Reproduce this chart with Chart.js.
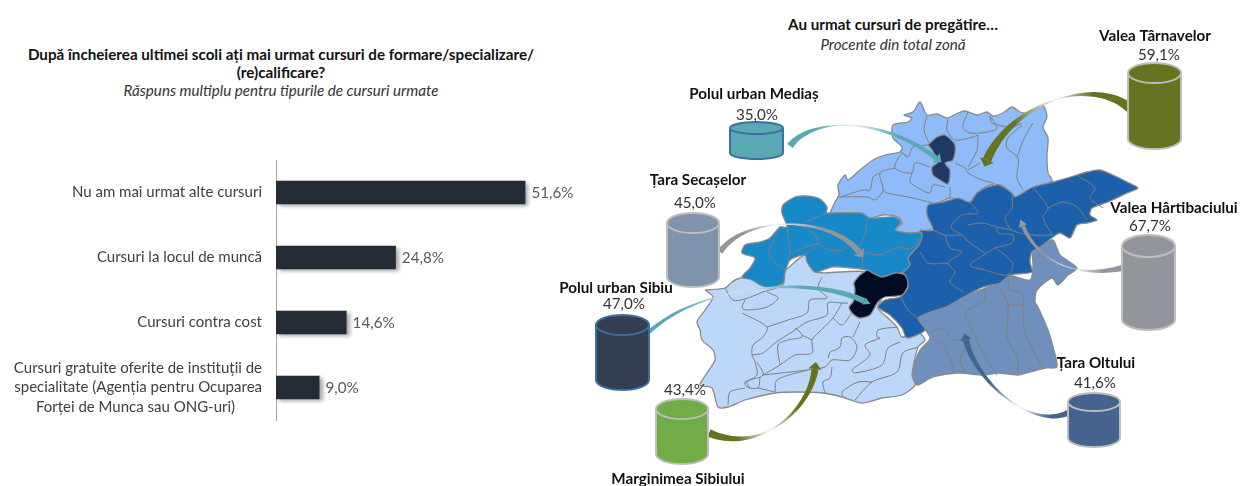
<!DOCTYPE html>
<html lang="ro">
<head>
<meta charset="utf-8">
<title>Cursuri de pregătire</title>
<script src="https://cdn.jsdelivr.net/npm/chart.js@4"></script>
<style>
    html, body { margin: 0; padding: 0; background: #fff; }
    body { position: relative; width: 1247px; height: 486px; overflow: hidden; font-family: Lato, sans-serif; }
    canvas { position: absolute; top: 0; }
    #barChart { left: 0; }
    #mapChart { left: 540px; }
    .head { position: absolute; text-align: center; color: #111; font-size: 15.2px; line-height: 18px; white-space: nowrap; }
    .head b { font-weight: 700; }
    .head i { color: #333; }
</style>
</head>
<body>
<div class="head" style="left:0;width:562px;top:45px"><b>După încheierea ultimei scoli ați mai urmat cursuri de formare/specializare/<br>(re)calificare?</b><br><i>Răspuns multiplu pentru tipurile de cursuri urmate</i></div>
<div class="head" style="left:693px;width:400px;top:14px;line-height:20px"><b>Au urmat cursuri de pregătire…</b><br><i>Procente din total zonă</i></div>
<canvas id="barChart" width="590" height="486"></canvas>
<canvas id="mapChart" width="707" height="486"></canvas>
<script>
// left chart
const courseLabels = [
    'Nu am mai urmat alte cursuri',
    'Cursuri la locul de muncă',
    'Cursuri contra cost',
    ['Cursuri gratuite oferite de instituții de', 'specialitate (Agenția pentru Ocuparea', 'Forței de Munca sau ONG-uri)       ']
];
const courseValues = [51.6, 24.8, 14.6, 9.0];

// right chart
const zoneNames = ['Valea Târnavelor', 'Polul urban Mediaș', 'Țara Secașelor', 'Valea Hârtibaciului', 'Polul urban Sibiu', 'Țara Oltului', 'Marginimea Sibiului'];
const zoneValues = [59.1, 35.0, 45.0, 67.7, 47.0, 41.6, 43.4];

// map outlines
const areaTarnave = [[830,213],[835,202],[839,195],[838,185],[845,175],[848,180],[860,170],[873,160],[885,155],[900,152],[902,147],[893,138],[893,125],[908,122],[912,118],[904,115],[913,112],[920,102],[927,115],[937,114],[947,118],[958,113],[965,111],[977,115],[987,112],[993,116],[1003,113],[1012,107],[1020,112],[1027,113],[1043,106],[1047,117],[1043,127],[1048,138],[1047,155],[1048,173],[1052,181],[1033,188],[1027,192],[1013,197],[1003,187],[993,184],[977,193],[970,202],[962,201],[950,198],[930,208],[928,217],[935,227],[920,232],[910,233],[895,230],[902,223],[898,217],[883,215],[870,218],[853,213],[837,217]];
const areaMedias = [[928,145],[937,137],[945,135],[955,145],[953,160],[945,163],[950,170],[948,184],[940,180],[933,175],[932,167],[938,162],[932,150]];
const areaSecase = [[826,213],[862,213],[870,218],[895,217],[901,222],[895,230],[908,233],[922,233],[920,243],[908,258],[910,265],[903,272],[882,277],[867,270],[852,268],[832,267],[815,272],[807,262],[805,255],[790,260],[785,273],[783,283],[770,288],[760,285],[752,280],[742,277],[750,268],[755,258],[742,253],[745,245],[760,242],[770,238],[780,227],[787,227],[782,213],[783,205],[795,197],[807,196],[820,199],[827,207]];
const areaHartibaciu = [[920,230],[933,230],[927,215],[928,205],[943,202],[958,198],[970,202],[977,193],[988,187],[1000,185],[1012,193],[1015,197],[1033,187],[1053,182],[1067,178],[1077,175],[1087,172],[1100,170],[1117,177],[1127,182],[1138,188],[1127,193],[1108,202],[1092,208],[1090,215],[1097,220],[1087,223],[1077,225],[1070,238],[1060,233],[1053,237],[1043,245],[1032,252],[1030,262],[1032,272],[1010,275],[1000,283],[983,287],[967,295],[948,306],[918,318],[925,330],[907,338],[902,328],[890,315],[878,307],[885,300],[900,297],[908,287],[905,275],[903,272],[910,265],[908,258],[920,243]];
const areaOlt = [[1032,252],[1043,245],[1053,240],[1060,255],[1077,268],[1068,275],[1058,285],[1052,278],[1037,290],[1035,302],[1038,307],[1048,330],[1053,347],[1057,367],[1045,368],[1018,375],[998,373],[983,375],[957,373],[933,377],[917,385],[913,377],[915,362],[920,350],[930,338],[918,318],[935,307],[963,295],[983,289],[1002,280],[1008,275],[1030,280],[1033,267]];
const areaMarginime = [[705,290],[725,288],[732,282],[740,278],[752,278],[785,270],[805,255],[815,272],[867,272],[885,290],[878,308],[888,318],[897,327],[902,337],[918,332],[925,340],[918,347],[912,375],[915,385],[902,395],[882,398],[862,403],[842,397],[823,393],[798,392],[775,393],[745,400],[728,407],[718,407],[712,388],[700,385],[707,373],[715,360],[713,350],[702,340],[700,330],[697,322],[705,310],[713,297]];
const areaSibiu = [[867,270],[882,277],[895,273],[905,275],[908,285],[902,295],[885,297],[878,302],[870,315],[860,318],[852,313],[849,307],[853,302],[855,290],[854,283],[860,275]];

const innerBorders = [
    // Valea Târnavelor
    [[927,116],[924,130],[929,143]], [[948,119],[947,130],[955,140],[973,137],[978,135]],
    [[968,112],[963,127],[970,133],[987,132],[997,128],[990,116]], [[978,135],[977,150],[968,167]],
    [[955,163],[965,168],[968,173],[982,180],[993,183]], [[968,170],[980,163]],
    [[1022,125],[1008,138],[1007,148],[1018,158],[1017,178],[1023,190]], [[1033,123],[1027,133],[1022,143],[1017,158]],
    [[990,116],[992,123],[1012,127],[1022,123]], [[902,153],[908,157],[913,147],[928,145]],
    [[908,157],[902,153],[895,168],[912,173],[915,163],[930,167]], [[895,168],[880,173],[883,190],[875,200],[868,197],[837,197]],
    [[880,173],[873,177],[870,190],[863,190],[840,197]], [[883,190],[887,193],[913,198],[932,203]],
    [[912,173],[910,182],[922,190],[930,193],[933,185],[945,187]], [[950,187],[950,198]],
    // Țara Secașelor
    [[780,227],[770,248],[770,257],[785,270]], [[787,227],[790,253],[788,258]],
    [[826,213],[803,225],[815,235],[818,243],[805,255]],
    [[818,243],[830,250],[843,250],[847,245],[857,248],[865,235],[867,222],[870,218]], [[790,253],[812,245],[818,243]],
    [[865,252],[878,255],[897,248],[912,248],[921,237]], [[863,252],[862,270]],
    // Valea Hârtibaciului
    [[1033,187],[1048,208],[1043,217],[1052,235]], [[1048,208],[1063,202],[1077,207],[1087,220]],
    [[1077,175],[1095,188],[1090,198],[1103,208]], [[1012,193],[1012,208],[1005,218],[1012,230],[1032,235],[1053,235]],
    [[970,202],[978,213],[962,215],[951,227],[962,235],[970,243],[985,253]], [[968,225],[982,223],[997,227],[1012,230]],
    [[997,227],[998,233],[1013,235],[1012,243],[995,248],[987,253],[970,265],[985,270],[1007,275],[1013,265],[1005,255],[995,248]],
    [[933,230],[945,235],[962,235]], [[945,235],[950,248],[962,252],[948,263],[955,272],[950,282],[963,292]],
    [[920,252],[928,263],[948,263]], [[900,295],[908,310],[918,318]],
    // Țara Oltului
    [[985,290],[985,300],[966,312],[973,332],[987,360],[997,375]], [[1000,288],[1008,305],[1007,338],[1017,357],[1018,373]],
    [[1008,277],[1010,290],[1022,293],[1023,310],[1025,333],[1037,357],[1042,367]],
    [[930,332],[943,329],[953,340],[962,340],[970,335]], [[933,338],[945,348],[955,372]],
    [[965,348],[960,358],[965,373]], [[1008,305],[1023,305]],
    // Marginimea Sibiului
    [[725,288],[733,300],[745,299],[763,292],[783,285],[784,275]], [[767,292],[778,298],[767,307],[748,310],[742,308],[745,300]],
    [[742,313],[767,327],[763,337],[753,345],[752,355],[755,362],[757,375],[747,382],[750,388]],
    [[767,327],[788,320],[807,313],[810,300],[827,298],[818,288],[822,277]],
    [[752,355],[763,353],[775,343],[792,332],[807,322],[827,315],[828,303],[842,303],[848,303]],
    [[795,328],[800,332],[802,337],[788,340],[778,345],[780,365]], [[812,340],[802,335]],
    [[833,318],[842,325],[852,313],[858,308]],
    [[842,303],[833,318],[818,333],[812,340],[812,353],[795,355],[780,365],[763,375]],
    [[757,362],[763,375],[745,382],[747,387],[758,388],[760,377]],
    [[830,352],[840,347],[842,338],[850,337],[857,347],[850,360],[832,360],[825,367],[808,370],[777,380],[775,392]],
    [[830,352],[828,358]], [[763,375],[808,370]], [[860,322],[853,337]],
    [[745,388],[730,392],[728,405]], [[758,388],[775,392]], [[832,367],[830,378],[823,382],[825,393]],
    [[897,327],[878,330],[877,337],[880,338],[865,345],[870,355],[852,370],[855,373],[882,365],[888,348],[900,342]],
    [[918,347],[903,353],[897,372],[872,382],[855,400]], [[872,382],[858,382],[842,392],[843,397]]
];

const mapAreas = [
    { shape: areaMarginime, color: '#BDD7FA' },
    { shape: areaTarnave, color: '#8FBBF9' },
    { shape: areaOlt, color: '#6F8FBD' },
    { shape: areaHartibaciu, color: '#1C5FAB' },
    { shape: areaSecase, color: '#1788C8' },
    { shape: areaMedias, color: '#1F3864' }
];
const topAreas = [
    { shape: areaSibiu, color: '#020A24' }
];

// same order as zoneNames: x, y of the top, width, height, ellipse radius
const cylinders = [
    { x: 1128, y: 63, w: 53, h: 86, ry: 10, fill: '#667320', line: '#BDBDBD' },
    { x: 730, y: 122, w: 53, h: 37, ry: 6, fill: '#5BA8B5', line: '#3F6FA0' },
    { x: 667, y: 213, w: 52, h: 74, ry: 10, fill: '#8093AD', line: '#BDBDBD' },
    { x: 1122, y: 235, w: 53, h: 95, ry: 11, fill: '#92959C', line: '#BDBDBD' },
    { x: 596, y: 315, w: 53, h: 75, ry: 10, fill: '#333F50', line: '#3F6FA0' },
    { x: 1068, y: 393, w: 52, h: 54, ry: 9, fill: '#44648F', line: '#BDBDBD' },
    { x: 656, y: 399, w: 52, h: 65, ry: 10, fill: '#70AD47', line: '#BDBDBD' }
];

// name x, name y, value x, value y
const zoneLabelSpots = [
    [1155, 36, 1159, 55], [754, 94, 757, 115], [698, 180, 695, 203], [1174, 208, 1150, 226],
    [616, 288, 624, 304], [1096, 363, 1095, 383], [678, 479, 685, 390]
];

const arrows = [
    { p: [[1130,108],[1090,75],[1010,105],[987,160]], tail: 10, mid: 0.45, end: 9, head: 15, color: '#667320' },
    { p: [[790,146],[810,118],[880,115],[936,158]], tail: 7, mid: 0.42, end: 5, head: 12, color: '#5BA8B5' },
    { p: [[720,252],[745,215],[830,215],[859,252]], tail: 6, mid: 0.42, end: 6, head: 13, color: '#92959C' },
    { p: [[1122,268],[1080,278],[1040,265],[1023,226]], tail: 6, mid: 0.4, end: 4, head: 9, color: '#92959C' },
    { p: [[649,332],[700,285],[810,275],[864,301]], tail: 4, mid: 0.42, end: 6, head: 8, color: '#5BA8B5' },
    { p: [[1068,413],[1030,430],[975,380],[966,340]], tail: 6, mid: 0.35, end: 6, head: 11, color: '#44648F' },
    { p: [[709,433],[760,455],[810,410],[815,369]], tail: 8, mid: 0.42, end: 7, head: 13, color: '#667320' }
];

function percentText(v) {
    return v.toFixed(1).replace('.', ',') + '%';
}

const barExtras = {
    id: 'barExtras',
    beforeDatasetDraw(chart) {
        const ctx = chart.ctx;
        ctx.save();
        ctx.shadowColor = 'rgba(0,0,0,0.35)';
        ctx.shadowBlur = 4;
        ctx.shadowOffsetX = 3;
        ctx.shadowOffsetY = 2;
    },
    afterDatasetDraw(chart) {
        chart.ctx.restore();
    },
    afterDatasetsDraw(chart) {
        const ctx = chart.ctx;
        ctx.save();
        ctx.font = '15.2px Lato';
        ctx.fillStyle = '#595959';
        ctx.textBaseline = 'middle';
        chart.getDatasetMeta(0).data.forEach(function (bar, i) {
            ctx.fillText(percentText(courseValues[i]), bar.x + 6, bar.y + 1);
        });
        ctx.restore();
    }
};

new Chart(document.getElementById('barChart').getContext('2d'), {
    type: 'bar',
    data: {
        labels: courseLabels,
        datasets: [{
            data: courseValues,
            backgroundColor: '#222B36',
            barPercentage: 1,
            categoryPercentage: 0.36
        }]
    },
    options: {
        indexAxis: 'y',
        responsive: false,
        animation: false,
        layout: { padding: { top: 160, bottom: 66, right: 24 } },
        plugins: { legend: { display: false }, tooltip: { enabled: false } },
        scales: {
            x: { display: false, min: 0, max: 60 },
            y: {
                afterFit: function (scale) { scale.width = 276; },
                grid: { display: false, drawTicks: false },
                border: { color: '#A6A6A6' },
                ticks: { padding: 14, color: '#404040', font: { family: 'Lato', size: 15, lineHeight: 1.3 } }
            }
        }
    },
    plugins: [barExtras]
});

function drawArrow(ctx, sx, sy, a) {
    const pts = a.p.map(function (q) { return [sx.getPixelForValue(q[0]), sy.getPixelForValue(q[1])]; });
    const left = [], right = [];
    const steps = 40;
    let dx = 0, dy = 0, last = null;
    for (let i = 0; i <= steps; i++) {
        const t = i / steps, u = 1 - t;
        const x = u*u*u*pts[0][0] + 3*u*u*t*pts[1][0] + 3*u*t*t*pts[2][0] + t*t*t*pts[3][0];
        const y = u*u*u*pts[0][1] + 3*u*u*t*pts[1][1] + 3*u*t*t*pts[2][1] + t*t*t*pts[3][1];
        dx = 3*u*u*(pts[1][0]-pts[0][0]) + 6*u*t*(pts[2][0]-pts[1][0]) + 3*t*t*(pts[3][0]-pts[2][0]);
        dy = 3*u*u*(pts[1][1]-pts[0][1]) + 6*u*t*(pts[2][1]-pts[1][1]) + 3*t*t*(pts[3][1]-pts[2][1]);
        const len = Math.hypot(dx, dy);
        dx /= len; dy /= len;
        const w = t < a.mid ? a.tail + (0.6 - a.tail) * t / a.mid : 0.6 + (a.end - 0.6) * (t - a.mid) / (1 - a.mid);
        left.push([x - dy * w / 2, y + dx * w / 2]);
        right.unshift([x + dy * w / 2, y - dx * w / 2]);
        last = [x, y];
    }
    const grad = ctx.createLinearGradient(pts[0][0], pts[0][1], pts[3][0], pts[3][1]);
    grad.addColorStop(0, a.color);
    grad.addColorStop(Math.max(0, a.mid - 0.25), a.color);
    grad.addColorStop(a.mid, '#E8EEF2');
    grad.addColorStop(Math.min(1, a.mid + 0.3), a.color);
    grad.addColorStop(1, a.color);
    ctx.fillStyle = grad;
    ctx.beginPath();
    left.concat(right).forEach(function (q, i) {
        if (i === 0) ctx.moveTo(q[0], q[1]); else ctx.lineTo(q[0], q[1]);
    });
    ctx.closePath();
    ctx.fill();
    // head
    ctx.fillStyle = a.color;
    ctx.beginPath();
    ctx.moveTo(last[0] - dy * a.head / 2, last[1] + dx * a.head / 2);
    ctx.lineTo(last[0] + dy * a.head / 2, last[1] - dx * a.head / 2);
    ctx.lineTo(last[0] + dx * 7, last[1] + dy * 7);
    ctx.closePath();
    ctx.fill();
}

function drawCylinder(ctx, sx, sy, c) {
    const x0 = sx.getPixelForValue(c.x), x1 = sx.getPixelForValue(c.x + c.w);
    const y0 = sy.getPixelForValue(c.y + c.ry), y1 = sy.getPixelForValue(c.y + c.h - c.ry);
    const cx = (x0 + x1) / 2, rx = (x1 - x0) / 2;
    ctx.fillStyle = c.fill;
    ctx.strokeStyle = c.line;
    ctx.lineWidth = 2;
    ctx.beginPath();
    ctx.ellipse(cx, y0, rx, c.ry, 0, Math.PI, 0);
    ctx.lineTo(x1, y1);
    ctx.ellipse(cx, y1, rx, c.ry, 0, 0, Math.PI);
    ctx.closePath();
    ctx.fill();
    ctx.stroke();
    ctx.beginPath();
    ctx.ellipse(cx, y0, rx, c.ry, 0, 0, Math.PI);
    ctx.stroke();
}

const mapExtras = {
    id: 'mapExtras',
    afterDatasetsDraw(chart) {
        const ctx = chart.ctx, sx = chart.scales.x, sy = chart.scales.y;
        ctx.save();
        arrows.forEach(function (a) { drawArrow(ctx, sx, sy, a); });
        cylinders.forEach(function (c) { drawCylinder(ctx, sx, sy, c); });
        ctx.textAlign = 'center';
        ctx.textBaseline = 'middle';
        zoneNames.forEach(function (name, i) {
            const s = zoneLabelSpots[i];
            ctx.font = 'bold 15.2px Lato';
            ctx.fillStyle = '#111';
            ctx.fillText(name, sx.getPixelForValue(s[0]), sy.getPixelForValue(s[1]));
            ctx.font = '15.2px Lato';
            ctx.fillStyle = '#333';
            ctx.fillText(percentText(zoneValues[i]), sx.getPixelForValue(s[2]), sy.getPixelForValue(s[3]));
        });
        ctx.restore();
    }
};

function areaDataset(area) {
    return {
        data: area.shape.concat([area.shape[0]]),
        showLine: true,
        fill: 'shape',
        backgroundColor: area.color,
        borderColor: '#8A8A8A',
        borderWidth: 1.3,
        pointRadius: 0,
        tension: 0.25
    };
}

const mapDatasets = mapAreas.map(areaDataset);
innerBorders.forEach(function (line) {
    mapDatasets.push({
        data: line,
        showLine: true,
        fill: false,
        borderColor: '#7F7F7F',
        borderWidth: 1,
        pointRadius: 0,
        tension: 0.3
    });
});
topAreas.forEach(function (area) { mapDatasets.push(areaDataset(area)); });
mapDatasets.forEach(function (d, i) { d.order = mapDatasets.length - i; });

new Chart(document.getElementById('mapChart').getContext('2d'), {
    type: 'scatter',
    data: { datasets: mapDatasets },
    options: {
        responsive: false,
        animation: false,
        layout: { padding: 0 },
        plugins: { legend: { display: false }, tooltip: { enabled: false } },
        scales: {
            x: { display: false, min: 540, max: 1247 },
            y: { display: false, min: 0, max: 486, reverse: true }
        }
    },
    plugins: [mapExtras]
});
</script>
</body>
</html>
